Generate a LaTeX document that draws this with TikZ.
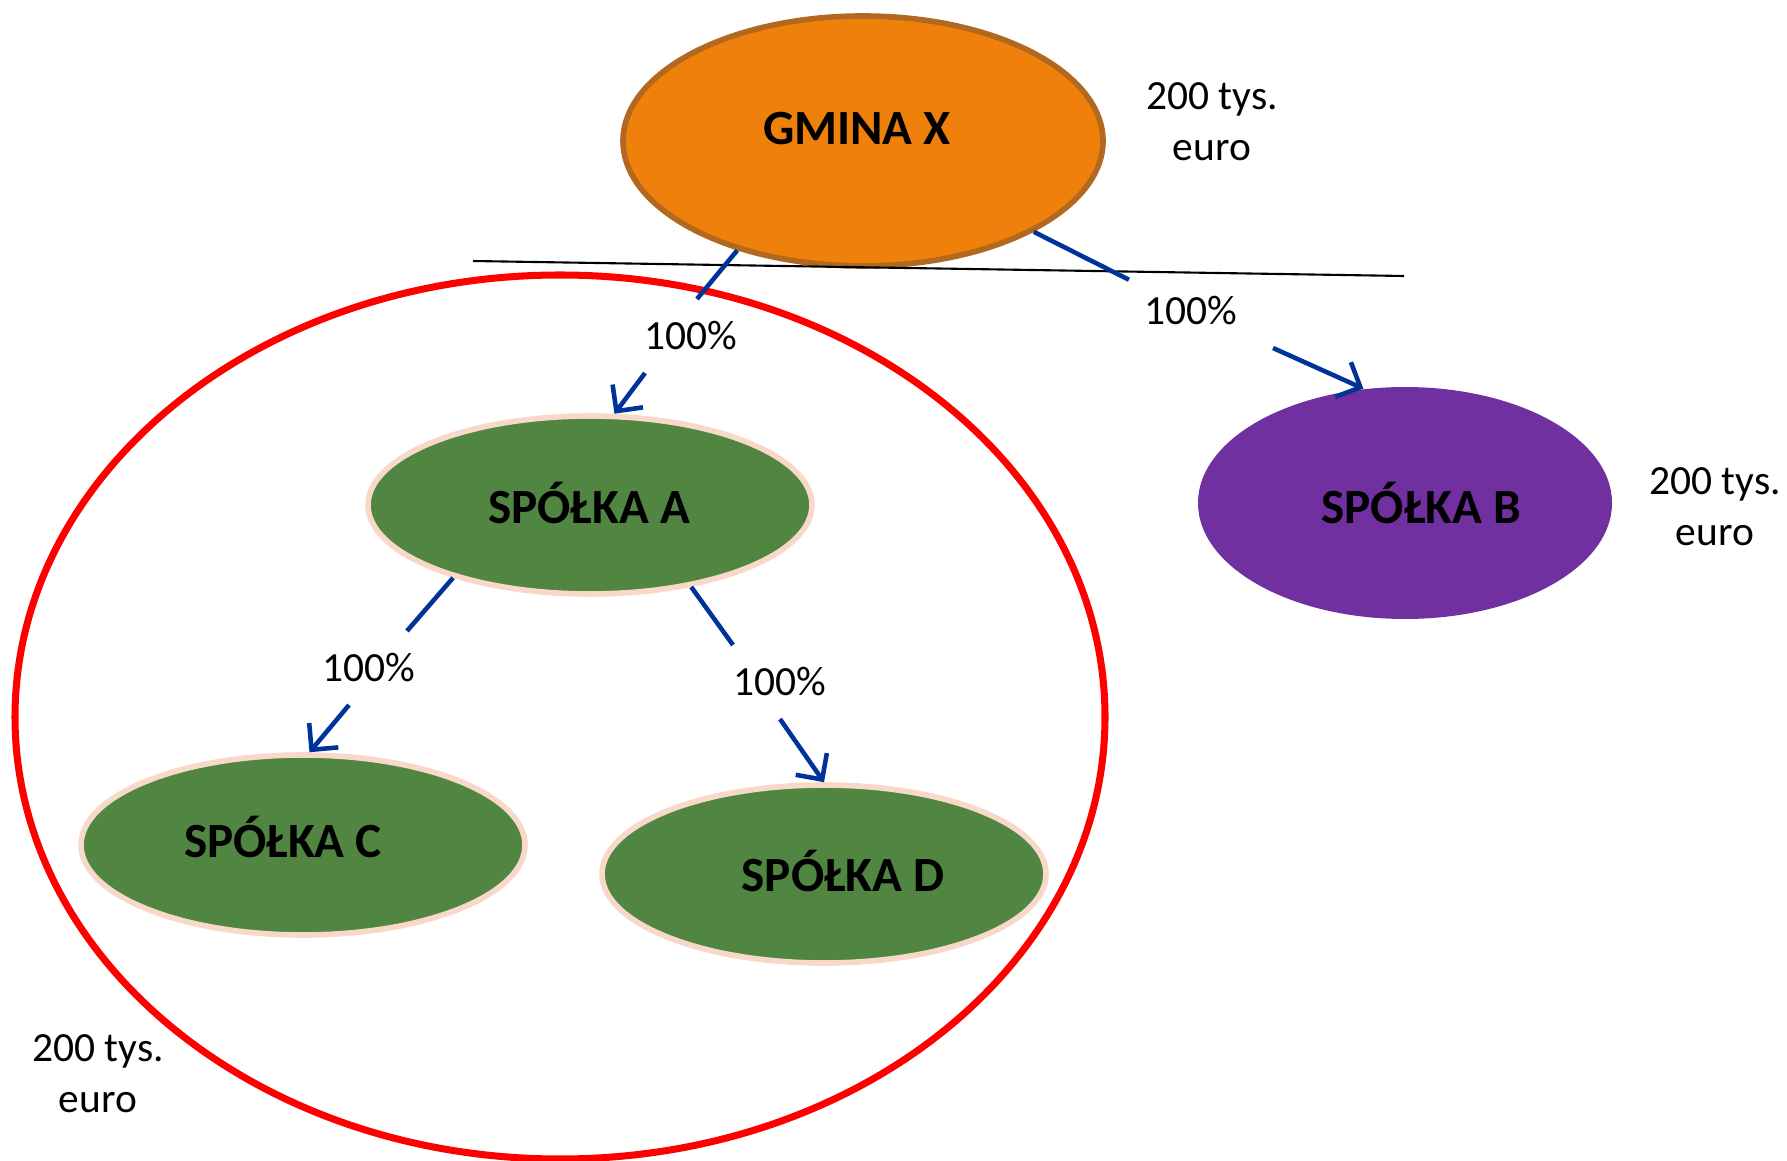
\documentclass[tikz,border=0pt]{standalone}
\usepackage{fontspec}
\setmainfont{Carlito}
\usetikzlibrary{shapes.geometric,arrows.meta}

\definecolor{pomarancz}{RGB}{239,128,12}
\definecolor{braz}{RGB}{178,104,31}
\definecolor{zielony}{RGB}{80,134,66}
\definecolor{brzoskwinia}{RGB}{248,216,200}
\definecolor{fiolet}{RGB}{112,48,160}
\definecolor{niebieski}{RGB}{0,51,153}

\tikzset{
	firma/.style={ellipse, inner sep=0pt},
	spolka/.style={firma, fill=zielony, draw=brzoskwinia, line width=1.6pt, minimum width=4.44cm, minimum height=1.78cm},
	napis/.style={font=\fontsize{14}{17}\selectfont\bfseries},
	procent/.style={inner xsep=0.15cm, inner ysep=0.22cm, font=\fontsize{11.8}{14.5}\selectfont},
	kwota/.style={align=center, font=\fontsize{11.8}{14.5}\selectfont},
	udzial/.style={draw=niebieski, line width=1.3pt},
	strzalka/.style={-{Straight Barb[length=1.9mm,width=3.8mm]}}
}

\begin{document}
\begin{tikzpicture}
	\useasboundingbox (0,0) rectangle (17.87,-11.61);
	% gmina i spolki
	\node[firma, fill=pomarancz, draw=braz, line width=1.6pt, minimum width=4.80cm, minimum height=2.50cm] (gmina) at (8.63,-1.41) {};
	\node[spolka] (spA) at (5.90,-5.05) {};
	\node[firma, fill=fiolet, minimum width=4.14cm, minimum height=2.32cm] (spB) at (14.05,-5.03) {};
	\node[spolka, minimum height=1.80cm] (spC) at (3.03,-8.45) {};
	\node[spolka] (spD) at (8.24,-8.74) {};
	\node[napis] (tGmina) at ([shift={(-0.06,0.12)}]gmina.center) {GMINA X};
	\node[napis] (tA) at ([shift={(-0.01,0.02)}]spA.center) {SPÓŁKA A};
	\node[napis] (tB) at ([shift={(0.16,0)}]spB.center) {SPÓŁKA B};
	\node[napis] (tC) at ([shift={(-0.20,0.08)}]spC.center) {SPÓŁKA C};
	\node[napis] (tD) at ([shift={(0.19,0.03)}]spD.center) {SPÓŁKA D};
	% kwoty
	\node[kwota] (kGmina) at (12.12,-1.22) {200 tys.\\euro};
	\node[kwota] (kB) at (17.15,-5.07) {200 tys.\\euro};
	\node[kwota] (kGrupa) at (0.98,-10.74) {200 tys.\\euro};
	% linia i grupa
	\coordinate (lewy) at (4.73,-2.61);
	\coordinate (prawy) at (14.04,-2.76);
	\draw[line width=0.6pt] (lewy) -- (prawy);
	\draw[red, line width=2pt] (5.60,-7.17) ellipse (5.45 and 4.42);
	% udzialy
	\node[procent] (pA) at (6.91,-3.36) {100\%};
	\node[procent] (pB) at (11.91,-3.11) {100\%};
	\node[procent] (pC) at (3.69,-6.68) {100\%};
	\node[procent] (pD) at (7.80,-6.82) {100\%};
	\draw[udzial] (gmina.221) -- ([xshift=0.6mm]pA.north);
	\draw[udzial, strzalka] ([xshift=-4.6mm]pA.south) -- (spA.75);
	\draw[udzial] (gmina.332) -- (pB);
	\draw[udzial, strzalka] ([xshift=2mm]pB.south east) -- (spB.110);
	\draw[udzial] (spA.208) -- ([xshift=3.8mm]pC.north);
	\draw[udzial, strzalka] ([xshift=-2mm]pC.south) -- (spC.86);
	\draw[udzial] (spA.321) -- ([xshift=-4.7mm]pD.north);
	\draw[udzial, strzalka] (pD.south) -- (spD.north);
\end{tikzpicture}
\end{document}
